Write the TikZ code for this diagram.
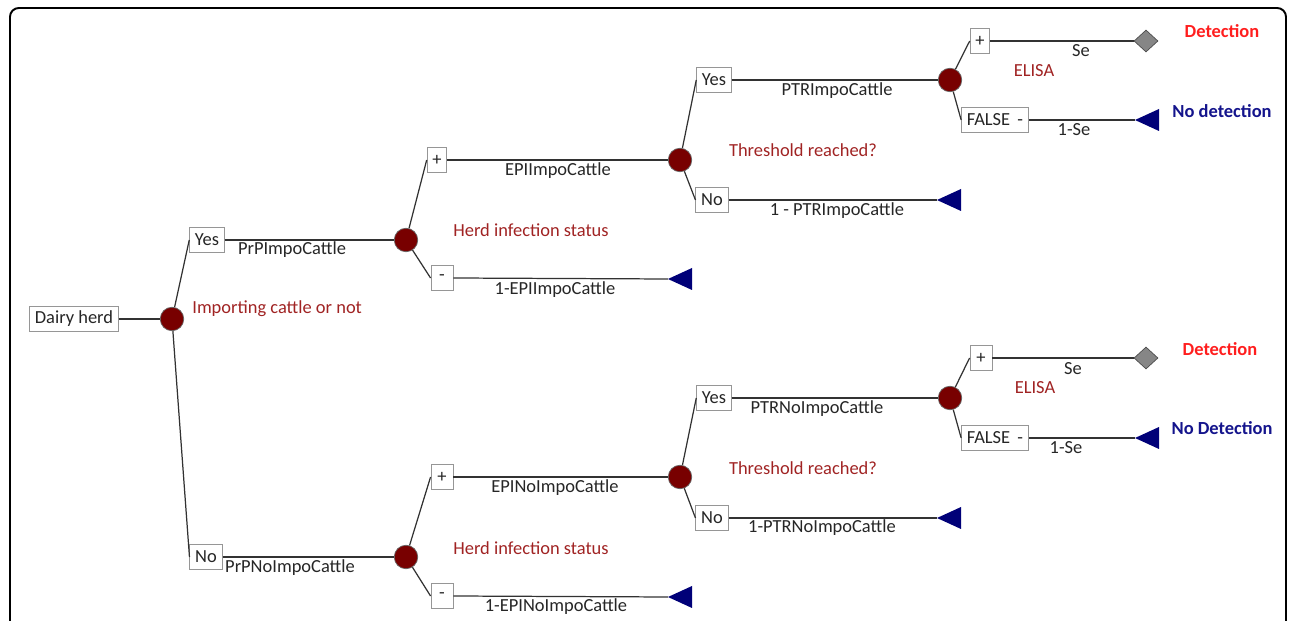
\documentclass[tikz,border=0pt]{standalone}
\usepackage{fontspec}
\setmainfont{Carlito}
\usetikzlibrary{shapes.geometric}
\definecolor{nodered}{RGB}{120,0,0}
\definecolor{lblred}{RGB}{160,35,35}
\definecolor{detred}{RGB}{255,30,30}
\definecolor{navyT}{RGB}{0,0,120}
\definecolor{nodet}{RGB}{20,20,140}
\definecolor{linegray}{RGB}{50,50,50}
\definecolor{boxgray}{RGB}{150,150,150}
\begin{document}
\begin{tikzpicture}[x=0.02cm,y=-0.02cm,font=\fontsize{10.5}{12}\selectfont,
  chance/.style={circle,fill=nodered,draw=black!60,line width=0.4pt,minimum size=0.47cm,inner sep=0},
  lbox/.style={draw=boxgray,fill=white,line width=0.5pt,inner xsep=3pt,inner ysep=0pt,minimum height=0.5cm,text=black!85},
  widebox/.style={lbox,minimum width=0.44cm},
  branch/.style={draw=linegray,line width=0.7pt},
  plab/.style={text=black!85,inner sep=0},
  qlab/.style={text=lblred,inner sep=0},
  endpos/.style={diamond,fill=gray!95,draw=gray!60!black,line width=0.4pt,minimum width=0.48cm,minimum height=0.44cm,inner sep=0},
  detlab/.style={text=detred,font=\fontsize{10.5}{12}\selectfont\bfseries,inner sep=0},
  nodetlab/.style={text=nodet,font=\fontsize{10.5}{12}\selectfont\bfseries,inner sep=0},
  leaf/.pic={\fill[navyT] (0,0) -- (24,-11) -- (24,11) -- cycle;}
]
\useasboundingbox (0,0) rectangle (1296,621);
\draw[line width=1.1pt,rounded corners=5pt] (10,640) -- (10,8) -- (1286,8) -- (1286,640);

% root
\node[lbox] (dh) at (74,319) {Dairy herd};
\node[chance] (R) at (172,319) {};
\node[qlab,anchor=west] (qR) at (192,309) {Importing cattle or not};
\draw[branch] (dh.east) -- (R);

% first level
\node[lbox] (yes1) at (207,240) {Yes};
\node[lbox] (no1) at (206,557) {No};
\node[chance] (n2a) at (406,240) {};
\node[chance] (n2b) at (406,557) {};
\draw[branch] (R) -- (yes1.west);
\draw[branch] (R) -- (no1.west);
\draw[branch] (yes1.east) -- (n2a);
\draw[branch] (no1.east) -- (n2b);
\node[plab] (l1) at (292,250) {PrPImpoCattle};
\node[plab] (l2) at (290,568) {PrPNoImpoCattle};

% ---------- upper subtree ----------
\node[qlab] (qa2) at (531,230) {Herd infection status};
\node[lbox] (plA) at (437,160) {+};
\node[widebox] (miA) at (442,278) {-};
\node[chance] (n3a) at (680,160) {};
\coordinate (tA1) at (668,279);
\draw[branch] (n2a) -- (plA.west);
\draw[branch] (n2a) -- (miA.west);
\draw[branch] (plA.east) -- (n3a);
\draw[branch] (miA.east) -- (tA1);
\pic at (tA1) {leaf};
\node[plab] (l3) at (558,171) {EPIImpoCattle};
\node[plab] (l4) at (555,290) {1-EPIImpoCattle};

\node[qlab] (qa3) at (803,150) {Threshold reached?};
\node[lbox] (yA) at (714,80) {Yes};
\node[lbox] (nA) at (712,200) {No};
\node[chance] (n4a) at (950,80) {};
\coordinate (tA2) at (937,200);
\draw[branch] (n3a) -- (yA.west);
\draw[branch] (n3a) -- (nA.west);
\draw[branch] (yA.east) -- (n4a);
\draw[branch] (nA.east) -- (tA2);
\pic at (tA2) {leaf};
\node[plab] (l5) at (837,91) {PTRImpoCattle};
\node[plab] (l6) at (837,211) {1 - PTRImpoCattle};

\node[qlab] (qa4) at (1034,71) {ELISA};
\node[lbox] (pA2) at (980,41) {+};
\node[lbox] (fA) at (995,120) {FALSE \,-};
\node[endpos] (dA) at (1146,41) {};
\coordinate (tA3) at (1135,120);
\draw[branch] (n4a) -- (pA2.west);
\draw[branch] (n4a) -- (fA.west);
\draw[branch] (pA2.east) -- (dA);
\draw[branch] (fA.east) -- (tA3);
\pic at (tA3) {leaf};
\node[plab] (l7) at (1081,51) {Se};
\node[plab] (l8) at (1074,130) {1-Se};
\node[detlab] (dtA) at (1222,31) {Detection};
\node[nodetlab] (ndA) at (1222,111) {No detection};

% ---------- lower subtree ----------
\node[qlab] (qb2) at (531,548) {Herd infection status};
\node[widebox] (plB) at (442,477) {+};
\node[widebox] (miB) at (442,596) {-};
\node[chance] (n3b) at (680,477) {};
\coordinate (tB1) at (668,597);
\draw[branch] (n2b) -- (plB.west);
\draw[branch] (n2b) -- (miB.west);
\draw[branch] (plB.east) -- (n3b);
\draw[branch] (miB.east) -- (tB1);
\pic at (tB1) {leaf};
\node[plab] (l9) at (555,488) {EPINoImpoCattle};
\node[plab] (l10) at (556,607) {1-EPINoImpoCattle};

\node[qlab] (qb3) at (803,468) {Threshold reached?};
\node[lbox] (yB) at (714,398) {Yes};
\node[lbox] (nB) at (712,518) {No};
\node[chance] (n4b) at (950,398) {};
\coordinate (tB2) at (937,518);
\draw[branch] (n3b) -- (yB.west);
\draw[branch] (n3b) -- (nB.west);
\draw[branch] (yB.east) -- (n4b);
\draw[branch] (nB.east) -- (tB2);
\pic at (tB2) {leaf};
\node[plab] (l11) at (817,409) {PTRNoImpoCattle};
\node[plab] (l12) at (822,528) {1-PTRNoImpoCattle};

\node[qlab] (qb4) at (1035,388) {ELISA};
\node[widebox] (pB2) at (981,358) {+};
\node[lbox] (fB) at (995,438) {FALSE \,-};
\node[endpos] (dB) at (1146,358) {};
\coordinate (tB3) at (1135,438);
\draw[branch] (n4b) -- (pB2.west);
\draw[branch] (n4b) -- (fB.west);
\draw[branch] (pB2.east) -- (dB);
\draw[branch] (fB.east) -- (tB3);
\pic at (tB3) {leaf};
\node[plab] (l13) at (1073,369) {Se};
\node[plab] (l14) at (1066,448) {1-Se};
\node[detlab] (dtB) at (1220,349) {Detection};
\node[nodetlab] (ndB) at (1222,428) {No Detection};
\end{tikzpicture}
\end{document}
